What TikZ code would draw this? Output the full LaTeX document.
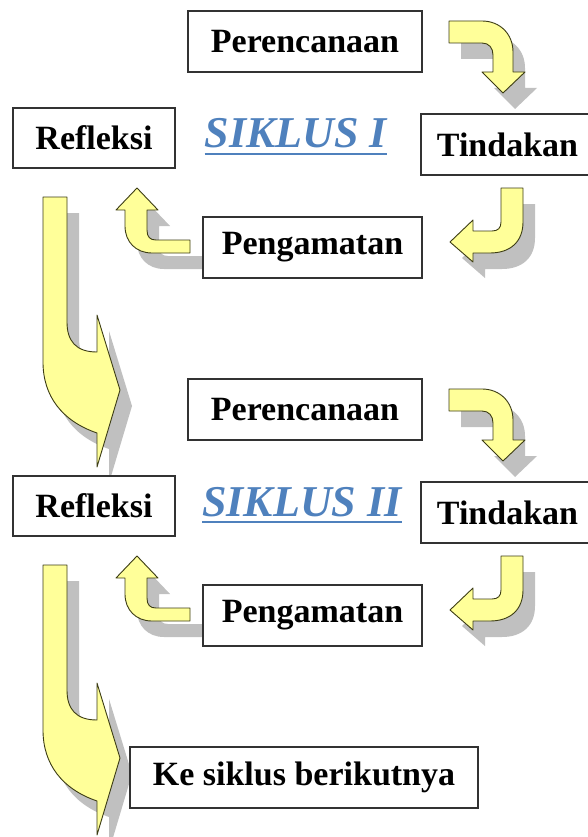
\documentclass[tikz,border=0pt]{standalone}
\usepackage{fontspec}
\setmainfont{Liberation Serif}
\definecolor{arrfill}{RGB}{255,255,153}
\definecolor{arrline}{RGB}{60,60,20}
\definecolor{shad}{RGB}{192,192,192}
\definecolor{sikblue}{RGB}{79,129,189}
\definecolor{boxline}{RGB}{50,50,50}
\tikzset{
  stepbox/.style={draw=boxline, line width=1.6pt, fill=white, inner sep=0pt,
    font=\fontsize{34}{40}\selectfont\bfseries, minimum height=61pt},
  blockarrow/.style={fill=arrfill, draw=arrline, line width=0.9pt, line join=round},
  arrowshadow/.style={fill=shad, draw=none},
  siklus/.style={font=\fontsize{44}{50}\selectfont\bfseries\itshape, text=sikblue, inner sep=0pt},
  sikline/.style={draw=sikblue, line width=2.5pt}
}
\newcommand\ArrA{(449,21) -- (482,21) .. controls (500,21) and (513,34) .. (513,52) -- (513,72) -- (525,72) -- (503,93) -- (482,72) -- (493,72) -- (493,55) .. controls (493,48) and (489,43) .. (482,43) -- (449,43) -- cycle}
\newcommand\ArrB{(501,188) -- (523,188) -- (523,222) .. controls (523,242) and (510,253) .. (490,253) -- (473,253) -- (473,262) -- (450,242) -- (473,220) -- (473,231) -- (492,231) .. controls (498,231) and (501,228) .. (501,222) -- cycle}
\newcommand\ArrC{(137,188) -- (158,210) -- (147,210) -- (147,230) .. controls (147,237) and (150,240) .. (156,240) -- (190,240) -- (190,253) -- (152,253) .. controls (136,253) and (125,242) .. (125,226) -- (125,210) -- (116,210) -- cycle}
\newcommand\ArrD{(43,197) -- (67,197) -- (67,322) .. controls (67,341) and (76,352) .. (97,352) -- (97,315) -- (120,390) -- (97,467) -- (97,433) .. controls (62,421) and (43,396) .. (43,362) -- cycle}
\newcommand\CycleArrows{%
  \begin{scope}[shift={(12,16)}]
    \fill[arrowshadow] \ArrA;
    \fill[arrowshadow] \ArrB;
    \fill[arrowshadow] \ArrC;
    \fill[arrowshadow] \ArrD;
  \end{scope}
  \filldraw[blockarrow] \ArrA;
  \filldraw[blockarrow] \ArrB;
  \filldraw[blockarrow] \ArrC;
  \filldraw[blockarrow] \ArrD;
}
\begin{document}
\begin{tikzpicture}[x=1pt,y=-1pt]
\useasboundingbox (0,0) rectangle (588,837);
\fill[white] (0,0) rectangle (588,837);
% cycle 1
\CycleArrows
\node[stepbox, minimum width=234pt] (per1) at (305,41.5) {Perencanaan};
\node[stepbox, minimum width=173pt] (tin1) at (507.5,144.5) {Tindakan};
\node[stepbox, minimum width=219pt] (peng1) at (312.5,247.5) {Pengamatan};
\node[stepbox, minimum width=162pt, minimum height=60pt] (ref1) at (94,138) {Refleksi};
\node[siklus, anchor=base] (sik1) at (296,148) {SIKLUS I};
\draw[sikline] ([yshift=-6pt]sik1.base west) -- ([yshift=-6pt]sik1.base east);
% cycle 2
\begin{scope}[shift={(0,368)}]
\CycleArrows
\node[stepbox, minimum width=234pt] (per2) at (305,41.5) {Perencanaan};
\node[stepbox, minimum width=173pt] (tin2) at (507.5,144.5) {Tindakan};
\node[stepbox, minimum width=219pt] (peng2) at (312.5,247.5) {Pengamatan};
\node[stepbox, minimum width=162pt, minimum height=60pt] (ref2) at (94,138) {Refleksi};
\node[siklus, anchor=base] (sik2) at (302,148) {SIKLUS II};
\draw[sikline] ([yshift=-6pt]sik2.base west) -- ([yshift=-6pt]sik2.base east);
\end{scope}
\node[stepbox, minimum width=348pt] (next) at (304,777.5) {Ke siklus berikutnya};
\end{tikzpicture}
\end{document}
